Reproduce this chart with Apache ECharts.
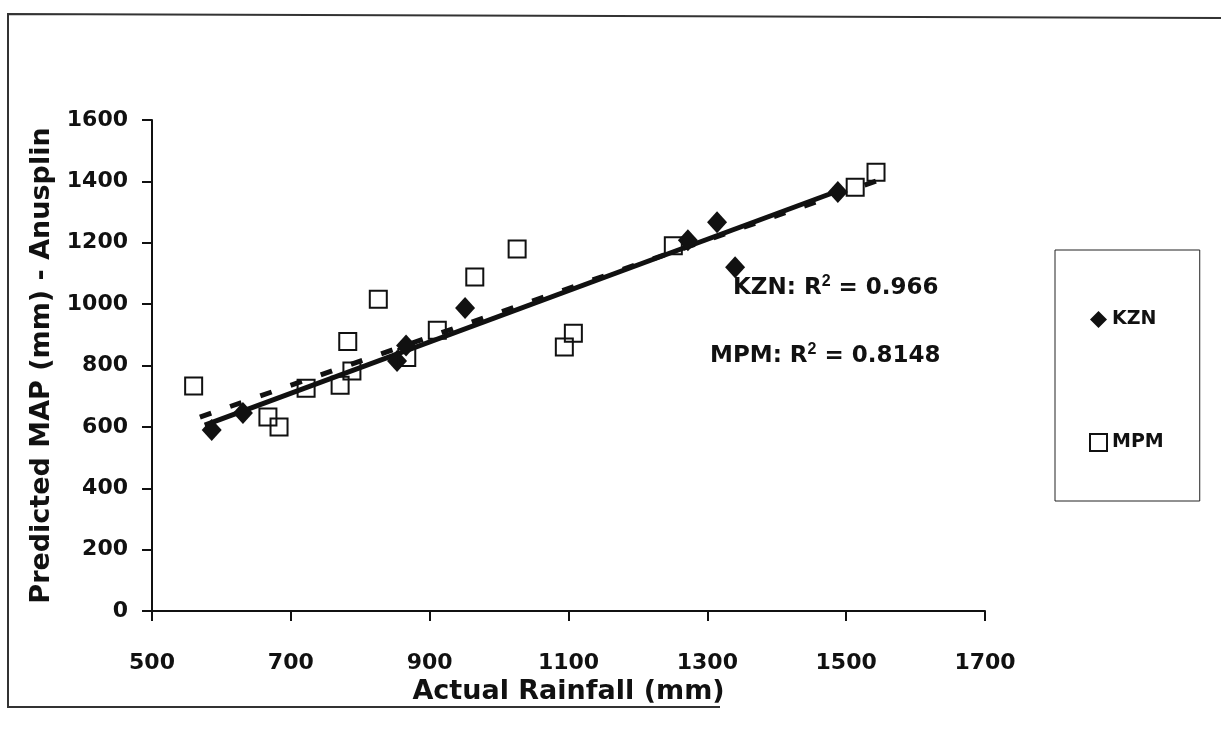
<!DOCTYPE html>
<html>
<head>
<meta charset="utf-8">
<script src="https://cdn.jsdelivr.net/npm/echarts@6/dist/echarts.min.js"></script>
<style>
  html, body { margin: 0; padding: 0; background: #fff; }
  #chart { width: 1221px; height: 732px; }
</style>
</head>
<body>
<div id="chart"></div>
<script>
// 数据
var kznPoints = [[586, 590], [631, 645], [853, 815], [866, 865], [951, 987],
  [1272, 1208], [1314, 1267], [1340, 1120], [1488, 1365]];
var mpmPoints = [[560, 733], [667, 632], [683, 600], [722, 726], [771, 736],
  [782, 878], [788, 782], [826, 1016], [867, 826], [911, 915], [965, 1088],
  [1026, 1180], [1094, 860], [1107, 905], [1251, 1190], [1513, 1381], [1543, 1430]];
// trend lines, end points
var kznTrend = [[576, 606], [1491, 1371]];
var mpmTrend = [[569, 632], [1543, 1401]];
var xTicks = [500, 1700, 200];
var yTicks = [0, 1600, 200];

var font = 'DejaVu Sans';
var plain = function(v) { return String(v); }; //不要千位分隔符
var chart = echarts.init(document.getElementById('chart'));
chart.setOption({
  animation: false,
  textStyle: { fontFamily: font },
  grid: {
    left: 152,
    right: 236,
    top: 120,
    bottom: 121
  },
  legend: {
    orient: 'vertical',
    left: 1055,
    top: 250,
    padding: [60, 36, 49, 34],
    itemGap: 104,
    itemWidth: 17,
    itemHeight: 17,
    itemStyle: { opacity: 1 },
    borderColor: '#222',
    borderWidth: 1,
    textStyle: { fontSize: 19, fontWeight: 'bold', color: '#111', fontFamily: font },
    data: ['KZN', 'MPM']
  },
  xAxis: {
    type: 'value',
    min: xTicks[0],
    max: xTicks[1],
    interval: xTicks[2],
    name: 'Actual Rainfall (mm)',
    nameLocation: 'middle',
    nameGap: 64,
    nameTextStyle: { fontSize: 27, fontWeight: 'bold', color: '#111' },
    splitLine: { show: false },
    axisLine: { lineStyle: { color: '#111', width: 2 } },
    axisTick: { show: true, length: 10, lineStyle: { color: '#111', width: 2 } },
    axisLabel: { margin: 41, fontSize: 22, fontWeight: 'bold', color: '#111', formatter: plain }
  },
  yAxis: {
    type: 'value',
    min: yTicks[0],
    max: yTicks[1],
    interval: yTicks[2],
    name: 'Predicted MAP (mm) - Anusplin',
    nameLocation: 'middle',
    nameGap: 88,
    nameTextStyle: { fontSize: 27, fontWeight: 'bold', color: '#111' },
    splitLine: { show: false },
    axisLine: { show: true, lineStyle: { color: '#111', width: 2 } },
    axisTick: { show: true, length: 10, lineStyle: { color: '#111', width: 2 } },
    axisLabel: { margin: 24, fontSize: 22, fontWeight: 'bold', color: '#111', formatter: plain }
  },
  series: [{
    name: 'MPM trend',
    type: 'line',
    data: mpmTrend,
    symbol: 'none',
    z: 2,
    lineStyle: { color: '#111', width: 5, type: [12, 20] }
  }, {
    name: 'KZN trend',
    type: 'line',
    data: kznTrend,
    symbol: 'none',
    z: 3,
    lineStyle: { color: '#111', width: 5 }
  }, {
    name: 'KZN',
    type: 'scatter',
    data: kznPoints,
    symbol: 'diamond',
    symbolSize: [20, 22],
    z: 4,
    itemStyle: { color: '#111', opacity: 1 }
  }, {
    name: 'MPM',
    type: 'scatter',
    data: mpmPoints,
    symbol: 'rect',
    symbolSize: 17,
    z: 5,
    itemStyle: { color: 'rgba(255,255,255,0)', borderColor: '#111', borderWidth: 2, opacity: 1 }
  }],
  graphic: [{
    type: 'text',
    left: 733,
    top: 274,
    style: {
      text: 'KZN: R{s|2} = 0.966',
      font: 'bold 23px ' + font,
      fill: '#111',
      rich: { s: { fontSize: 16, fontWeight: 'bold', verticalAlign: 'top', padding: [0, 0, 12, 0] } }
    }
  }, {
    type: 'text',
    left: 710,
    top: 342,
    style: {
      text: 'MPM: R{s|2} = 0.8148',
      font: 'bold 23px ' + font,
      fill: '#111',
      rich: { s: { fontSize: 16, fontWeight: 'bold', verticalAlign: 'top', padding: [0, 0, 12, 0] } }
    }
  }, {
    // scanned page frame
    type: 'polyline',
    shape: { points: [[1221, 18], [8, 14], [8, 707], [720, 707]] },
    style: { stroke: '#333', lineWidth: 2, fill: null }
  }]
});
</script>
</body>
</html>
